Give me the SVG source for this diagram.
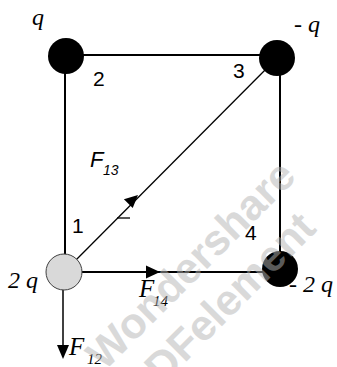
<svg xmlns="http://www.w3.org/2000/svg" width="337" height="367" viewBox="0 0 337 367">
<style>
.edge{stroke:#000;stroke-width:2;fill:none}
.thin{stroke:#000;stroke-width:1.3;fill:none}
.force{stroke:#000;stroke-width:1.5;fill:none}
.head{fill:#000;stroke:none}
.dark{fill:#000}
.q{font-family:"Liberation Serif",serif;font-style:italic;font-size:24px;fill:#000}
.num{font-family:"Liberation Sans",Arial,sans-serif;font-size:21px;fill:#000}
.fs{font-family:"Liberation Sans",Arial,sans-serif;font-style:italic;fill:#000}
.fr{font-family:"Liberation Serif",serif;font-style:italic;fill:#000}
.wm{font-family:"Liberation Sans",Arial,sans-serif;font-weight:bold;font-size:43px;fill:#b4b4b4;opacity:0.5}
</style>
<rect width="337" height="367" fill="#fff"/>
<g id="connectors">
  <line class="edge" x1="66" y1="55" x2="277" y2="55"/>
  <line class="edge" x1="65" y1="56" x2="65" y2="272"/>
  <line class="edge" x1="280" y1="58" x2="280" y2="270"/>
  <line class="edge" x1="64" y1="272" x2="279" y2="272"/>
  <line class="thin" x1="64" y1="272" x2="277" y2="58"/>
  <line class="thin" x1="117" y1="218" x2="130" y2="218"/>
  <polygon class="head" points="138,195 123.9,199.3 132.7,208.1"/>
  <polygon class="head" points="160,272 146,265.5 146,278.5"/>
  <line class="force" x1="63" y1="272" x2="63" y2="348"/>
  <polygon class="head" points="63,359 57,345 69,345"/>
  <text class="fs" x="90" y="167" font-size="22">F</text>
  <text class="fs" x="103" y="175" font-size="14">13</text>
  <text class="fr" x="139" y="297" font-size="25">F</text>
  <text class="fr" x="153" y="306" font-size="15">14</text>
  <text class="fr" x="69" y="355" font-size="25">F</text>
  <text class="fr" x="87" y="364" font-size="15">12</text>
</g>
<g id="node1">
  <circle cx="64" cy="272" r="18" fill="#d9d9d9" stroke="#404040" stroke-width="1"/>
  <text class="num" x="72" y="233">1</text>
  <text class="q" x="8" y="288">2 q</text>
</g>
<g id="node2">
  <circle class="dark" cx="66" cy="56" r="18"/>
  <text class="num" x="93" y="86">2</text>
  <text class="q" x="32" y="25">q</text>
</g>
<g id="node3">
  <circle class="dark" cx="277" cy="58" r="18"/>
  <text class="num" x="233" y="78">3</text>
  <text class="q" x="294" y="32">- q</text>
</g>
<g id="node4">
  <circle class="dark" cx="280" cy="269" r="18"/>
  <text class="num" x="245" y="240">4</text>
  <text class="q" x="289" y="292">- 2 q</text>
</g>
<g id="watermark">
  <text class="wm" text-anchor="middle" transform="translate(201,275) rotate(-45)">Wondershare</text>
  <text class="wm" text-anchor="middle" transform="translate(230,318) rotate(-45)">PDFelement</text>
</g>
</svg>
